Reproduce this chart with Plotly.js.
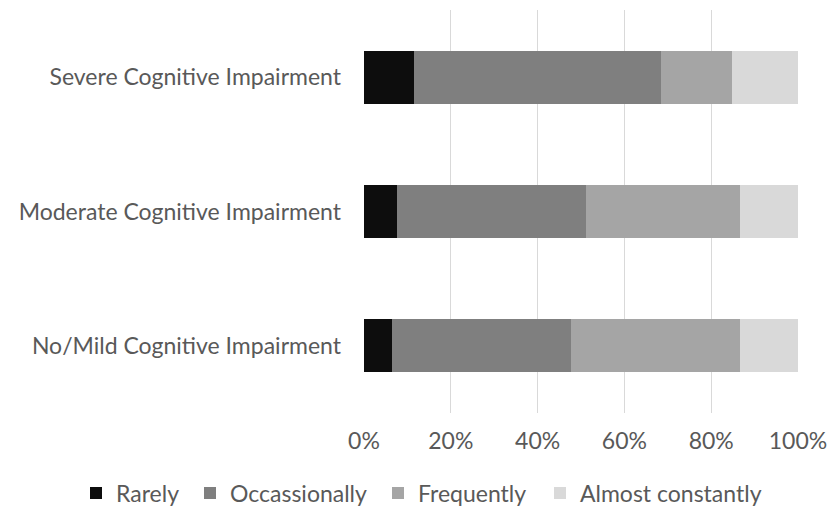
<!DOCTYPE html>
<html>
<head>
<meta charset="utf-8">
<script src="https://cdn.plot.ly/plotly-3.0.1.min.js"></script>
<style>html,body{margin:0;padding:0;background:#fff;}#chart{width:830px;height:513px;}text{font-variant-ligatures:none;}</style>
</head>
<body>
<div id="chart"></div>
<script>
var categories = ["No/Mild Cognitive Impairment", "Moderate Cognitive Impairment", "Severe Cognitive Impairment"];
var seriesNames = ["Rarely", "Occassionally", "Frequently", "Almost constantly"];
var rarely = [6.4, 7.7, 11.6];
var occasionally = [41.2, 43.4, 56.9];
var frequently = [39.1, 35.6, 16.4];
var almostConstantly = [13.3, 13.3, 15.1];
var colors = ["#0d0d0d", "#7f7f7f", "#a5a5a5", "#d9d9d9"];
var tickVals = [0, 20, 40, 60, 80, 100];
var tickText = ["0%", "20%", "40%", "60%", "80%", "100%"];

var legendIds = ["legend", "legend2", "legend3", "legend4"];
var legendLeft = [76, 190, 378, 540];

var allSeries = [rarely, occasionally, frequently, almostConstantly];
var traces = allSeries.map(function (vals, i) {
  return {
    type: "bar",
    orientation: "h",
    name: seriesNames[i],
    legend: legendIds[i],
    y: categories,
    x: vals,
    marker: {color: colors[i], line: {width: 0}},
    hoverinfo: "x+name"
  };
});

var font = {family: "Lato, sans-serif", size: 23, color: "#595959"};
var layout = {
  width: 830, height: 513,
  margin: {l: 364, r: 32, t: 10, b: 100, pad: 0},
  barmode: "stack",
  bargap: 0.604,
  paper_bgcolor: "#ffffff",
  plot_bgcolor: "#ffffff",
  font: font,
  showlegend: true,
  xaxis: {
    range: [0, 100],
    tickvals: tickVals,
    ticktext: tickText,
    showgrid: true,
    gridcolor: "#d9d9d9",
    gridwidth: 1,
    zeroline: false,
    showline: false,
    ticks: "",
    ticklabelstandoff: 12,
    tickfont: font,
    fixedrange: true
  },
  yaxis: {
    type: "category",
    categoryorder: "array",
    categoryarray: categories,
    range: [-0.5, 2.5],
    showgrid: false,
    zeroline: false,
    showline: false,
    ticks: "",
    ticklabelstandoff: 22,
    tickfont: font,
    fixedrange: true
  }
};
legendIds.forEach(function (id, i) {
  layout[id] = {
    orientation: "h",
    xref: "container", yref: "container",
    x: legendLeft[i] / 830, xanchor: "left",
    y: 1 - 493 / 513, yanchor: "middle",
    font: font,
    bgcolor: "rgba(0,0,0,0)",
    borderwidth: 0
  };
});

Plotly.newPlot("chart", traces, layout, {displayModeBar: false, staticPlot: true});
</script>
</body>
</html>
